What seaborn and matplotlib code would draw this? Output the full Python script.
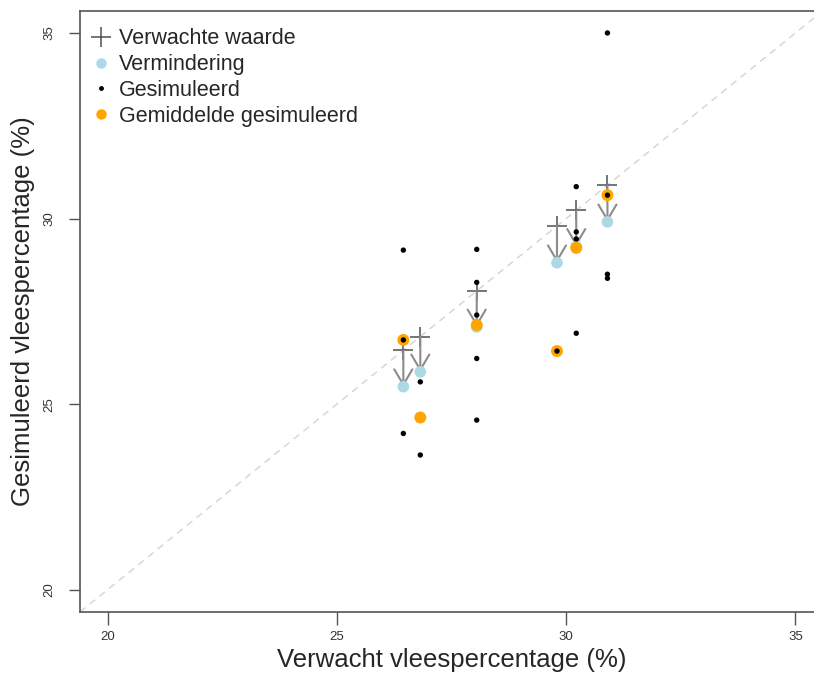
import numpy as np
import pandas as pd
import seaborn as sns
import matplotlib
matplotlib.use("Agg")
import matplotlib.pyplot as plt
from matplotlib.lines import Line2D

# ---- data ----
expected = [26.45, 26.82, 28.05, 29.80, 30.22, 30.90]        # Verwachte waarde (x and y)
reduced = [25.47, 25.87, 27.08, 28.81, 29.25, 29.91]          # Vermindering
mean_sim = [26.73, 24.64, 27.13, 26.43, 29.21, 30.63]         # Gemiddelde gesimuleerd
sim_group = [0, 0, 0, 1, 1, 2, 2, 2, 2, 2, 3, 4, 4, 4, 4, 5, 5, 5, 5]
sim_values = [29.15, 26.73, 24.21,
              25.60, 23.63,
              29.17, 28.28, 27.40, 26.23, 24.57,
              26.43,
              30.86, 29.64, 29.45, 26.91,
              35.00, 30.63, 28.50, 28.39]
ticks = [20, 25, 30, 35]
legend_labels = ["Verwachte waarde", "Vermindering", "Gesimuleerd", "Gemiddelde gesimuleerd"]

sns.set_style("ticks")
plt.rcParams['font.family'] = ['Liberation Sans', 'DejaVu Sans']

W, H = 814, 675
fig = plt.figure(figsize=(W / 100, H / 100), dpi=100)
ax = fig.add_axes([80 / W, (H - 612) / H, (823 - 80) / W, (612 - 10.7) / H])

lo, hi = 19.4, 35.6
ax.set_xlim(lo, hi)
ax.set_ylim(lo, hi)

# diagonal
ax.plot([lo, hi], [lo, hi], ls=(0, (5, 4)), color="#d3d3d3", lw=1, zorder=1)

df_exp = pd.DataFrame({"x": expected, "y": expected})
df_red = pd.DataFrame({"x": expected, "y": reduced})
df_mean = pd.DataFrame({"x": expected, "y": mean_sim})
df_sim = pd.DataFrame({"x": [expected[g] for g in sim_group], "y": sim_values})

# expected values: plus
sns.scatterplot(data=df_exp, x="x", y="y", marker="+", s=190, color="#505050",
                linewidth=1.1, ax=ax, zorder=2, legend=False)
# arrows
for xe, yr in zip(expected, reduced):
    ax.annotate("", xy=(xe, yr), xytext=(xe, xe),
                arrowprops=dict(arrowstyle="->,head_length=11,head_width=6.5",
                                mutation_scale=1, color="#8c8c8c", lw=1.5,
                                shrinkA=0, shrinkB=0), zorder=3)
sns.scatterplot(data=df_red, x="x", y="y", s=70, color="#add8e6", edgecolor="none",
                ax=ax, zorder=4, legend=False)
sns.scatterplot(data=df_mean, x="x", y="y", s=74, color="#ffa500", edgecolor="none",
                ax=ax, zorder=5, legend=False)
sns.scatterplot(data=df_sim, x="x", y="y", s=15, color="black", edgecolor="none",
                ax=ax, zorder=6, legend=False)

ax.set_xticks(ticks)
ax.set_yticks(ticks)
ax.set_xticklabels([str(t) for t in ticks], fontsize=9.5, color="#333333")
ax.set_yticklabels([str(t) for t in ticks], fontsize=9.5, color="#333333",
                   rotation=90, va="center")
ax.tick_params(axis="x", direction="out", length=9, width=1, color="#555555", pad=5)
ax.tick_params(axis="y", direction="out", length=8, width=1, color="#555555", pad=10)
for s in ax.spines.values():
    s.set_color("#555555")
    s.set_linewidth(1.2)
    s.set_visible(True)

ax.set_xlabel("Verwacht vleespercentage (%)", fontsize=18.5, labelpad=3)
ax.set_ylabel("Gesimuleerd vleespercentage (%)", fontsize=18.5, labelpad=6)

handles = [
    Line2D([], [], ls="none", marker="+", markersize=15, mew=1.1, color="#505050"),
    Line2D([], [], ls="none", marker="o", markersize=7.5, color="#add8e6", mec="none"),
    Line2D([], [], ls="none", marker="o", markersize=3.5, color="black", mec="none"),
    Line2D([], [], ls="none", marker="o", markersize=7.5, color="#ffa500", mec="none"),
]
ax.legend(handles, legend_labels, loc="upper left", frameon=False, fontsize=15.5,
          handlelength=1.0, handletextpad=0.35, labelspacing=0.22,
          borderaxespad=0.0, bbox_to_anchor=(0.002, 0.985))

fig.savefig("out.png", dpi=100)
